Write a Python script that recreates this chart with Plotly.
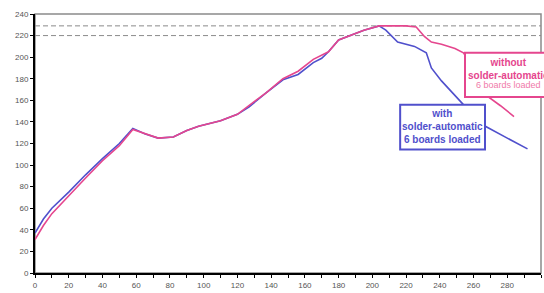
import plotly.graph_objects as go

# Time (s) and temperature (°C) readings
with_t = [0, 5, 10, 20, 30, 40, 50, 58, 65, 73, 82, 90, 97, 103, 110, 120, 127, 137, 147, 156,
          165, 170, 174, 180, 188, 195, 204, 208, 215, 225, 232, 235, 241, 249, 254, 260, 267, 280, 292]
with_T = [37, 50, 60, 75, 91, 106, 120, 134, 129, 125, 126, 132, 136, 138, 141, 147, 154, 167, 179, 184,
          195, 199, 205, 216, 221, 225, 229, 225, 214, 210, 204, 190, 178, 165, 156, 146, 136, 125, 115]

without_t = [0, 5, 10, 20, 30, 40, 50, 58, 65, 73, 82, 90, 97, 103, 110, 120, 127, 137, 147, 156,
             165, 170, 174, 180, 188, 195, 204, 210, 220, 226, 231, 235, 241, 249, 254, 258, 262, 269, 276, 284]
without_T = [31, 44, 55, 72, 88, 104, 118, 133, 129, 125, 126, 132, 136, 138, 141, 147, 155, 167, 180, 187,
             198, 202, 205, 216, 221, 225, 229, 229, 229, 228, 219, 214, 212, 208, 204, 195, 180, 163, 155, 145]

limit_lines = [229, 220]
x_ticks = list(range(0, 301, 20))
y_ticks = list(range(0, 241, 20))

BLUE = "#5050cc"
PINK = "#e5468e"

fig = go.Figure()
fig.add_trace(go.Scatter(x=with_t, y=with_T, mode="lines",
                         line=dict(color=BLUE, width=1.6), showlegend=False))
fig.add_trace(go.Scatter(x=without_t, y=without_T, mode="lines",
                         line=dict(color=PINK, width=1.6), showlegend=False))

# plot frame (grey top/right)
fig.add_shape(type="rect", xref="paper", yref="paper", x0=0, x1=1, y0=0, y1=1,
              line=dict(color="#8a8a8a", width=1.5), layer="below")

for v in limit_lines:
    fig.add_shape(type="line", xref="paper", yref="y", x0=0, x1=1, y0=v, y1=v,
                  line=dict(color="#8a8a8a", width=1, dash="5px,3px"), layer="below")

# boxes
fig.add_shape(type="rect", xref="x", yref="y", x0=216.5, x1=266.8, y0=114.5, y1=156,
              line=dict(color=BLUE, width=2), fillcolor="white", layer="above")
fig.add_shape(type="rect", xref="paper", yref="y", x0=(465 - 35) / 506, x1=(555 - 35) / 506,
              y0=163, y1=204, line=dict(color=PINK, width=2), fillcolor="white", layer="above")

fig.add_annotation(x=241.5, xref="x", y=135.5, yref="y", showarrow=False,
                   text="<b>with<br>solder-automatic<br>6 boards loaded</b>",
                   font=dict(family="Arial", size=10, color=BLUE), align="center")
fig.add_annotation(x=281, xref="x", y=189, yref="y", showarrow=False,
                   text="<b>without<br>solder-automatic</b>", yanchor="middle",
                   font=dict(family="Arial", size=10, color=PINK), align="center")
fig.add_annotation(x=281, xref="x", y=174, yref="y", showarrow=False,
                   text="6 boards loaded",
                   font=dict(family="Arial", size=9, color="#f07aaa"), align="center")

fig.update_layout(
    width=544, height=293,
    margin=dict(l=35, r=3, t=14, b=18),
    paper_bgcolor="white", plot_bgcolor="white",
    xaxis=dict(range=[0, 300], tickvals=x_ticks, ticks="outside", ticklen=3, tickcolor="black",
               showgrid=False, zeroline=False, showline=True, linecolor="black", linewidth=2,
               tickfont=dict(family="Arial", size=8, color="#555"),
               minor=dict(dtick=10, ticks="outside", ticklen=3, tickcolor="black", showgrid=False)),
    yaxis=dict(range=[0, 240], tickvals=y_ticks, ticks="outside", ticklen=3, tickcolor="black",
               showgrid=False, zeroline=False, showline=True, linecolor="black", linewidth=2,
               tickfont=dict(family="Arial", size=8, color="#555")),
)

fig.write_html("out.html", config={"displayModeBar": False},
               post_script="document.body.style.margin='0px';document.body.style.overflow='hidden';")
